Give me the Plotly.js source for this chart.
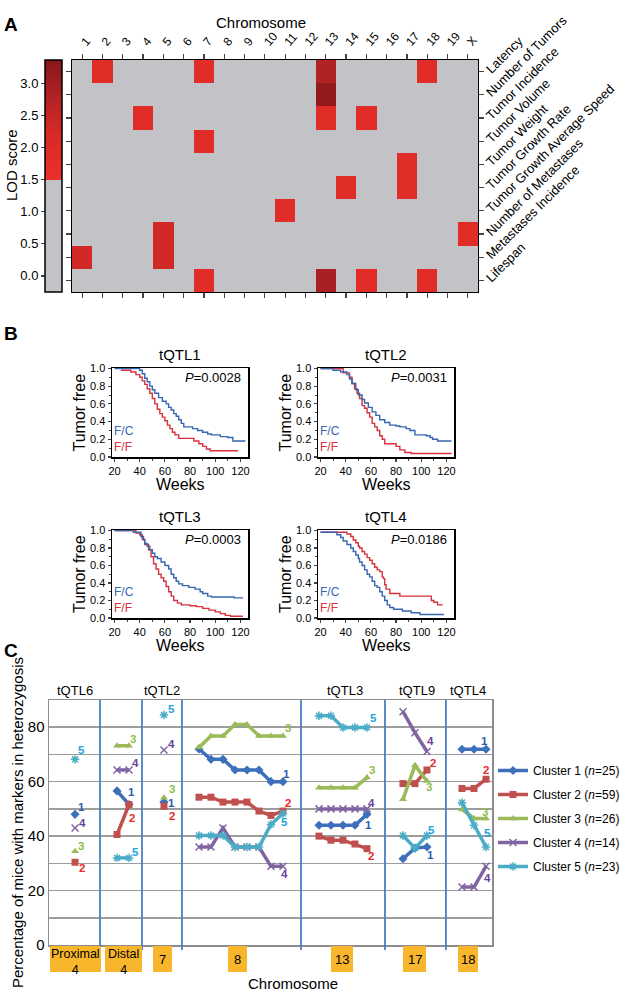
<!DOCTYPE html>
<html><head><meta charset="utf-8">
<script src="https://cdn.plot.ly/plotly-3.0.1.min.js"></script>
<style>html,body{margin:0;padding:0;background:#fff}</style>
</head><body><div id="chart" style="width:625px;height:992px"></div>
<script>
// ---------------- Panel A data ----------------
const chromosomes = ['1','2','3','4','5','6','7','8','9','10','11','12','13','14','15','16','17','18','19','X'];
const traits = ['Latency','Number of Tumors','Tumor Incidence','Tumor Volume','Tumor Weight','Tumor Growth Rate','Tumor Growth Average Speed','Number of Metastases','Metastases Incidence','Lifespan'];
const hitTrait = ['Latency','Latency','Latency','Latency','Number of Tumors','Tumor Incidence','Tumor Incidence','Tumor Incidence','Tumor Volume','Tumor Weight','Tumor Growth Rate','Tumor Growth Rate','Tumor Growth Average Speed','Number of Metastases','Number of Metastases','Metastases Incidence','Metastases Incidence','Lifespan','Lifespan','Lifespan','Lifespan'];
const hitChr =   ['2','7','13','18','13','4','13','15','7','17','14','17','11','5','X','1','5','7','13','15','18'];
const hitLod =   [1.9,1.9,2.8,1.9,3.2,1.9,1.9,1.9,1.9,1.9,1.9,1.9,1.9,2.3,1.9,2.3,2.3,1.9,2.9,1.9,1.9];
const lodTicks = [0,0.5,1,1.5,2,2.5,3];

// ---------------- Panel B data (Kaplan-Meier steps) ----------------
const km1FcT = [20,40,42,44,46,48,50,52,55,58,61,63,65,67,69,71,73,75,82,86,90,94,97,104,110,114,124];
const km1FcS = [1.0,0.98,0.94,0.89,0.85,0.80,0.76,0.72,0.67,0.63,0.60,0.56,0.53,0.49,0.46,0.42,0.38,0.34,0.32,0.30,0.28,0.26,0.25,0.23,0.22,0.18,0.18];
const km1FfT = [25,33,37,40,42,44,46,48,50,52,54,56,58,60,62,64,66,68,71,83,87,90,93,96,118];
const km1FfS = [0.98,0.96,0.93,0.90,0.86,0.82,0.77,0.72,0.66,0.60,0.54,0.49,0.45,0.41,0.36,0.32,0.28,0.25,0.21,0.18,0.15,0.12,0.09,0.07,0.07];
const km2FcT = [20,30,36,41,43,45,48,50,53,55,58,61,64,67,71,75,80,83,88,91,95,104,107,109,113,124];
const km2FcS = [1.0,0.98,0.96,0.93,0.88,0.83,0.76,0.70,0.65,0.61,0.56,0.51,0.47,0.42,0.39,0.36,0.35,0.34,0.32,0.30,0.25,0.24,0.22,0.20,0.18,0.18];
const km2FfT = [20,38,43,45,47,49,51,53,55,57,59,61,63,65,67,69,71,80,83,87,92,124];
const km2FfS = [1.0,0.95,0.90,0.83,0.77,0.72,0.66,0.58,0.55,0.50,0.45,0.38,0.34,0.30,0.24,0.20,0.15,0.12,0.08,0.05,0.04,0.04];
const km3FcT = [20,35,41,43,44,46,48,50,52,54,57,60,63,65,67,69,71,74,79,84,88,90,94,97,115,122];
const km3FcS = [1.0,0.98,0.93,0.89,0.85,0.82,0.78,0.74,0.70,0.68,0.64,0.60,0.56,0.50,0.46,0.42,0.39,0.37,0.35,0.33,0.30,0.28,0.25,0.24,0.23,0.23];
const km3FfT = [20,37,40,42,44,47,49,51,53,55,57,59,61,63,65,67,70,73,80,85,90,95,100,104,108,112,122];
const km3FfS = [1.0,0.97,0.95,0.90,0.84,0.78,0.70,0.62,0.56,0.50,0.46,0.42,0.36,0.30,0.25,0.20,0.17,0.15,0.14,0.13,0.11,0.09,0.07,0.05,0.03,0.02,0.02];
const km4FcT = [20,33,36,38,41,44,46,48,50,51,53,55,57,59,61,63,65,67,69,71,73,75,78,85,92,99,118];
const km4FcS = [0.98,0.95,0.92,0.88,0.84,0.80,0.76,0.72,0.68,0.64,0.60,0.55,0.50,0.47,0.42,0.37,0.35,0.30,0.25,0.20,0.15,0.12,0.10,0.08,0.06,0.04,0.04];
const km4FfT = [20,41,44,46,48,50,51,53,55,57,59,61,63,65,67,69,70,71,72,75,83,108,110,113,117];
const km4FfS = [0.98,0.96,0.93,0.89,0.86,0.82,0.80,0.76,0.73,0.69,0.66,0.62,0.58,0.55,0.53,0.47,0.45,0.38,0.33,0.28,0.25,0.20,0.18,0.15,0.15];
const kmTitles = ['tQTL1','tQTL2','tQTL3','tQTL4'];
const kmP = ['0.0028','0.0031','0.0003','0.0186'];

// ---------------- Panel C data ----------------
// marker slots along the x axis, one array per chromosome block
const xProx4 = [2.17];
const xDist4 = [5.67, 6.67];
const xChr7  = [9.58];
const xChr8  = [12.5, 13.5, 14.5, 15.5, 16.5, 17.5, 18.5, 19.5];
const xChr13 = [22.5, 23.5, 24.5, 25.5, 26.5];
const xChr17 = [29.5, 30.5, 31.5];
const xChr18 = [34.42, 35.42, 36.42];
const cluster1 = [[48],[56.6,51.6],[52.5],[72,68.2,68.2,64.3,64.3,64.3,60,60],[44,44,44,44,48],[31.7,35.6,36],[71.9,71.9,71.9]];
const cluster2 = [[30.4],[40.6,51.6],[51],[54.3,54.3,52.5,52.5,52.5,49.2,47.6,49.2],[40,38.5,38.5,37.1,35.4],[59.3,59.3,64.3],[57.5,57.5,60.9]];
const cluster3 = [[34.4],[73.2,73.2],[54.1],[72.6,76.8,76.8,81,81,76.8,76.8,76.8],[57.8,57.8,57.8,57.8,61.5],[53.5,66,60.2],[49.8,46.5,46.5]];
const cluster4 = [[43],[64.3,64.3],[71.6],[36,36,43,36,36,36,28.9,28.9],[50,50,50,50,50],[85.7,78,71.1],[21.3,21.3,28.9]];
const cluster5 = [[68.2],[32,32],[84.5],[40.2,40.2,40.2,36,36,36,44.3,48.3],[84.2,84.2,79.9,79.9,79.9],[40.2,35.6,40.2],[52.3,44,36]];
const clusterN = [25, 59, 26, 14, 23];
const qtlNames = ['tQTL6','tQTL2','tQTL3','tQTL9','tQTL4'];
const chrBoxLabels = [['Proximal','4'],['Distal','4'],['7'],['8'],['13'],['17'],['18']];

// ---------------- helpers ----------------
const W = 625, H = 992;
const px = v => v / W, py = v => 1 - v / H;
const FONT = 'Liberation Sans, Arial, Helvetica, sans-serif';
const traces = [];
const annotations = [];
const shapes = [];

// ---------------- Panel A ----------------
const z = traits.map(() => chromosomes.map(() => null));
hitTrait.forEach((t, i) => { z[traits.indexOf(t)][chromosomes.indexOf(hitChr[i])] = hitLod[i]; });
const zmin = -0.25, zmax = 3.36;
const f = v => (v - zmin) / (zmax - zmin);
const grayCol = '#c2c3c7';
traces.push({
  type: 'heatmap', x: chromosomes, y: traits, z: z, xaxis: 'x', yaxis: 'y',
  zmin: zmin, zmax: zmax, hoverongaps: false,
  colorscale: [[0, grayCol], [f(1.5), grayCol], [f(1.5), '#ea3129'], [f(2.2), '#d82a26'], [f(2.8), '#b02224'], [1, '#861719']],
  showscale: true,
  colorbar: { x: px(45), xanchor: 'left', y: py(60), yanchor: 'top', len: 232, lenmode: 'pixels',
    thickness: 17, thicknessmode: 'pixels', outlinewidth: 1.5, outlinecolor: '#000', xpad: 0, ypad: 0,
    showticklabels: false, ticks: '' }
});
traces.push({ type: 'scatter', x: [chromosomes[0]], y: [0], xaxis: 'x', yaxis: 'y2', mode: 'markers',
  marker: { opacity: 0 }, hoverinfo: 'skip', showlegend: false });
shapes.push({ type: 'rect', xref: 'x domain', yref: 'y domain', x0: 0, x1: 1, y0: 0, y1: 1, fillcolor: grayCol, line: { width: 0 }, layer: 'below' });

// ---------------- Panel B ----------------
const kmData = [[km1FcT, km1FcS, km1FfT, km1FfS], [km2FcT, km2FcS, km2FfT, km2FfS], [km3FcT, km3FcS, km3FfT, km3FfS], [km4FcT, km4FcS, km4FfT, km4FfS]];
const kmBoxes = [[112, 248, 368, 457], [318, 454, 368, 457], [112, 248, 530, 618], [318, 454, 530, 618]];
const blue = '#3766b1', red = '#d8323c';
const layoutAxes = {};
kmData.forEach((d, i) => {
  const xa = 'x' + (i + 2), ya = 'y' + (i + 3);
  traces.push({ type: 'scatter', mode: 'lines', x: d[2], y: d[3], xaxis: xa, yaxis: ya, line: { color: red, width: 1.4, shape: 'hv' }, showlegend: false, hoverinfo: 'skip' });
  traces.push({ type: 'scatter', mode: 'lines', x: d[0], y: d[1], xaxis: xa, yaxis: ya, line: { color: blue, width: 1.4, shape: 'hv' }, showlegend: false, hoverinfo: 'skip' });
  const b = kmBoxes[i];
  layoutAxes['xaxis' + (i + 2)] = { domain: [px(b[0]), px(b[1])], anchor: ya, range: [18, 126], tickvals: [20, 40, 60, 80, 100, 120],
    ticks: 'outside', ticklen: 3, tickwidth: 1.2, showline: true, linecolor: '#000', linewidth: 1.5, mirror: true,
    showgrid: false, zeroline: false, tickfont: { size: 11, color: '#000' },
    minor: { tickvals: [30, 50, 70, 90, 110], ticks: 'outside', ticklen: 2, tickwidth: 1 } };
  layoutAxes['yaxis' + (i + 3)] = { domain: [py(b[3]), py(b[2])], anchor: xa, range: [0, 1.005], tickvals: [0, 0.2, 0.4, 0.6, 0.8, 1.0],
    ticktext: ['0.0', '0.2', '0.4', '0.6', '0.8', '1.0'],
    ticks: 'outside', ticklen: 3, tickwidth: 1.2, showline: true, linecolor: '#000', linewidth: 1.5, mirror: true,
    showgrid: false, zeroline: false, tickfont: { size: 11, color: '#000' },
    minor: { tickvals: [0.1, 0.3, 0.5, 0.7, 0.9], ticks: 'outside', ticklen: 2, tickwidth: 1 } };
  const cx = (b[0] + b[1]) / 2;
  annotations.push({ xref: 'paper', yref: 'paper', x: px(cx), y: py(b[2] - 3), xanchor: 'center', yanchor: 'bottom', text: kmTitles[i], showarrow: false, font: { size: 15, color: '#000' } });
  annotations.push({ xref: xa + ' domain', yref: ya + ' domain', x: 0.96, y: 0.89, xanchor: 'right', yanchor: 'middle', text: '<i>P</i>=' + kmP[i], showarrow: false, font: { size: 13, color: '#000' } });
  annotations.push({ xref: xa + ' domain', yref: ya + ' domain', x: 0.01, y: 0.02, xanchor: 'left', yanchor: 'bottom', borderpad: 0,
    text: '<span style="color:' + blue + '">F/C</span><br><span style="color:' + red + '">F/F</span>', align: 'left', showarrow: false, font: { size: 12 } });
  annotations.push({ xref: 'paper', yref: 'paper', x: px(b[0] - 33), y: py((b[2] + b[3]) / 2), xanchor: 'center', yanchor: 'middle', textangle: -90, text: 'Tumor free', showarrow: false, font: { size: 16, color: '#000' } });
  annotations.push({ xref: 'paper', yref: 'paper', x: px(cx), y: py(b[3] + 27), xanchor: 'center', yanchor: 'middle', text: 'Weeks', showarrow: false, font: { size: 16, color: '#000' } });
});

// ---------------- Panel C ----------------
const sectionsX = [xProx4, xDist4, xChr7, xChr8, xChr13, xChr17, xChr18];
const clusters = [cluster1, cluster2, cluster3, cluster4, cluster5];
const lineCols = ['#3d6fbb', '#c0504d', '#9bbb59', '#8064a2', '#4bacc6'];
const labelCols = ['#2e5ea8', '#e52a2a', '#8dc04b', '#6a3f9e', '#22a6de'];
const symbols = ['diamond', 'square', 'triangle-up', 'x-thin-open', 'asterisk-open'];
clusters.forEach((c, k) => {
  const xs = [], ys = [];
  c.forEach((vals, s) => { vals.forEach((v, j) => { xs.push(sectionsX[s][j]); ys.push(v); }); xs.push(null); ys.push(null); });
  const sym = symbols[k];
  const open = sym.indexOf('open') >= 0;
  traces.push({ type: 'scatter', mode: 'lines+markers', x: xs, y: ys, xaxis: 'x6', yaxis: 'y7', connectgaps: false, cliponaxis: false,
    name: 'Cluster ' + (k + 1) + ' (<i>n</i>=' + clusterN[k] + ')', legendgroup: 'g' + k,
    line: { color: lineCols[k], width: 3.5 },
    marker: { symbol: sym, size: 7, color: lineCols[k], line: { color: lineCols[k], width: open ? 1.5 : 0 } },
    hoverinfo: 'skip' });
});
// end-of-block number labels (offsets in px: dx right, dy down)
const labelOffsets = [
  [[6,-7],[7,6],[6,-5],[7,-5],[6,-9]],
  [[2,-13],[3,13],[4,-7],[6,-7],[6,-6]],
  [[8,1],[8,10],[8,-9],[8,-6],[8,-6]],
  [[4,-8],[5,-8],[5,-8],[2,8],[2,8]],
  [[2,11],[4,7],[5,-8],[5,-6],[7,-9]],
  [[4,8],[6,-7],[2,6],[4,-10],[5,-6]],
  [[-2,-8],[0,-9],[-1,-6],[1,12],[1,-14]]
];
sectionsX.forEach((sx, s) => {
  clusters.forEach((c, k) => {
    const n = sx.length - 1;
    const o = labelOffsets[s][k];
    annotations.push({ xref: 'x6', yref: 'y7', x: sx[n], y: c[s][n], xanchor: 'center', yanchor: 'middle', xshift: o[0], yshift: -o[1], borderpad: 0,
      text: '<b>' + (k + 1) + '</b>', showarrow: false, font: { size: 11.5, color: labelCols[k] } });
  });
});
const cLeft = 49, cRight = 492, cTop = 700, cBot = 945;
layoutAxes.xaxis6 = { domain: [px(cLeft), px(cRight)], anchor: 'y7', range: [0, 36.92], showticklabels: false, ticks: '', showgrid: false, zeroline: false,
  showline: true, linecolor: '#8d8d8d', linewidth: 1.5, mirror: true };
layoutAxes.yaxis7 = { domain: [py(cBot), py(cTop)], anchor: 'x6', range: [0, 90], tickvals: [0,10,20,30,40,50,60,70,80,90],
  ticktext: ['0','','20','','40','','60','','80',''], ticks: '', showgrid: true, gridcolor: '#9d9d9d', gridwidth: 1.5,
  showline: true, linecolor: '#8d8d8d', linewidth: 1.5, mirror: true, zeroline: false, tickfont: { size: 15, color: '#000' } };
[4.25, 7.75, 11.08, 21, 28, 33.08].forEach(b => {
  shapes.push({ type: 'line', xref: 'x6', yref: 'paper', x0: b, x1: b, y0: py(950), y1: py(cTop), line: { color: '#4a7ec6', width: 1.8 } });
});
const qtlPos = [75, 162, 345, 417, 468];
qtlNames.forEach((q, i) => annotations.push({ xref: 'paper', yref: 'paper', x: px(qtlPos[i]), y: py(690), xanchor: 'center', yanchor: 'middle', text: q, showarrow: false, font: { size: 13, color: '#000' } }));
const boxPos = [[50, 101], [105, 142], [153, 172], [228, 247], [331, 353], [403, 426], [458, 478]];
chrBoxLabels.forEach((lab, i) => {
  const bp = boxPos[i];
  shapes.push({ type: 'rect', xref: 'paper', yref: 'paper', x0: px(bp[0]), x1: px(bp[1]), y0: py(972), y1: py(946), fillcolor: '#f8b62d', line: { width: 0 } });
  const cx = px((bp[0] + bp[1]) / 2);
  if (lab.length === 2) {
    annotations.push({ xref: 'paper', yref: 'paper', x: cx, y: py(946), xanchor: 'center', yanchor: 'top', borderpad: 0, text: lab[0] + '<br>' + lab[1], showarrow: false, font: { size: 12.5, color: '#000' } });
  } else {
    annotations.push({ xref: 'paper', yref: 'paper', x: cx, y: py(959), xanchor: 'center', yanchor: 'middle', text: lab[0], showarrow: false, font: { size: 13, color: '#000' } });
  }
});
annotations.push({ xref: 'paper', yref: 'paper', x: px(293), y: py(983), xanchor: 'center', yanchor: 'middle', text: 'Chromosome', showarrow: false, font: { size: 15, color: '#000' } });
annotations.push({ xref: 'paper', yref: 'paper', x: px(17), y: py(823), xanchor: 'center', yanchor: 'middle', textangle: -90, text: 'Percentage of mice with markers in heterozygosis', showarrow: false, font: { size: 15, color: '#000' } });

// Panel A texts
annotations.push({ xref: 'paper', yref: 'paper', x: px(261), y: py(22), xanchor: 'center', yanchor: 'middle', text: 'Chromosome', showarrow: false, font: { size: 15, color: '#000' } });
annotations.push({ xref: 'paper', yref: 'paper', x: px(12), y: py(165), xanchor: 'center', yanchor: 'middle', textangle: -90, text: 'LOD score', showarrow: false, font: { size: 15, color: '#000' } });
// panel letters
[['A', 25], ['B', 333], ['C', 650]].forEach(l => annotations.push({ xref: 'paper', yref: 'paper', x: px(2), y: py(l[1]), xanchor: 'left', yanchor: 'middle', text: '<b>' + l[0] + '</b>', showarrow: false, font: { size: 19, color: '#000' } }));

const layout = Object.assign({
  width: W, height: H, margin: { l: 0, r: 0, t: 0, b: 0, autoexpand: false }, paper_bgcolor: '#fff', plot_bgcolor: 'rgba(0,0,0,0)',
  font: { family: FONT, color: '#000' },
  showlegend: true,
  legend: { x: px(493), y: py(756), xanchor: 'left', yanchor: 'top', font: { size: 12, color: '#000' }, bgcolor: 'rgba(0,0,0,0)', itemwidth: 30, tracegroupgap: 5 },
  xaxis: { domain: [px(72), px(478)], anchor: 'y', type: 'category', side: 'top', tickangle: -50, ticks: 'outside', ticklen: 5, tickwidth: 1.2,
    showline: true, linecolor: '#000', linewidth: 1.2, mirror: 'ticks', tickfont: { size: 12, color: '#000' }, showgrid: false, zeroline: false, range: [-0.5, 19.5] },
  yaxis: { domain: [py(292), py(60)], anchor: 'x', type: 'category', range: [9.5, -0.5], side: 'right', tickangle: -45, ticks: 'outside', ticklen: 5, tickwidth: 1.2,
    showline: true, linecolor: '#000', linewidth: 1.2, mirror: 'ticks', tickfont: { size: 13, color: '#000' }, showgrid: false, zeroline: false },
  yaxis2: { overlaying: 'y', anchor: 'free', position: px(45), side: 'left', range: [zmin, zmax], tickvals: lodTicks, ticktext: lodTicks.map(v => v.toFixed(1)),
    ticks: 'outside', ticklen: 4, tickwidth: 1.2, showline: false, showgrid: false, zeroline: false, tickfont: { size: 13, color: '#000' } },
  annotations: annotations, shapes: shapes
}, layoutAxes);

Plotly.newPlot('chart', traces, layout, { staticPlot: true, displayModeBar: false });
</script></body></html>
